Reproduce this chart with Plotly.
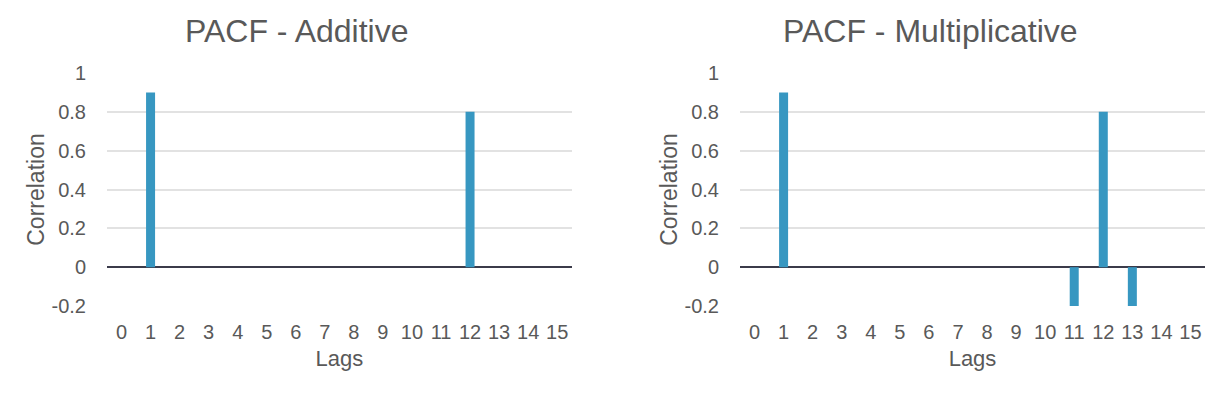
import plotly.graph_objects as go

lags = list(range(16))
additive = [0, 0.9, 0, 0, 0, 0, 0, 0, 0, 0, 0, 0, 0.8, 0, 0, 0]
multiplicative = [0, 0.9, 0, 0, 0, 0, 0, 0, 0, 0, 0, -0.2, 0.8, -0.2, 0, 0]
titles = ["PACF - Additive", "PACF - Multiplicative"]
y_ticks = [-0.2, 0, 0.2, 0.4, 0.6, 0.8, 1]
y_ticktext = ["-0.2", "0", "0.2", "0.4", "0.6", "0.8", "1"]

BAR = "#3797C1"
TXT = "#595959"
GRID = "#E2E2E2"
ZERO = "#3B3B4A"
FONT = "Liberation Sans, Arial, Helvetica, sans-serif"

W, H = 1224, 396
ML, MR, MT, MB = 107, 19, 73, 90
PW = W - ML - MR
PH = H - MT - MB

fig = go.Figure()
fig.add_trace(go.Bar(x=lags, y=additive, marker=dict(color=BAR, line=dict(width=0)),
                     width=0.31, xaxis="x", yaxis="y", showlegend=False))
fig.add_trace(go.Bar(x=lags, y=multiplicative, marker=dict(color=BAR, line=dict(width=0)),
                     width=0.31, xaxis="x2", yaxis="y2", showlegend=False))

xdom = [[0, (571.7 - ML) / PW], [(740 - ML) / PW, 1]]

common_x = dict(range=[-0.5, 15.5], tickmode="array", tickvals=lags,
                ticktext=[str(v) for v in lags], showgrid=False, zeroline=False,
                showline=False, ticks="outside", ticklen=8, tickcolor="rgba(0,0,0,0)",
                tickfont=dict(family=FONT, size=20, color=TXT), automargin=False,
                title=dict(text="Lags", font=dict(family=FONT, size=22, color=TXT), standoff=8),
                fixedrange=True)
common_y = dict(range=[-0.2, 1.0], tickmode="array", tickvals=y_ticks, ticktext=y_ticktext,
                showgrid=True, gridcolor=GRID, gridwidth=2, zeroline=True,
                zerolinecolor=ZERO, zerolinewidth=2, showline=False,
                ticks="outside", ticklen=16, tickcolor="rgba(0,0,0,0)",
                tickfont=dict(family=FONT, size=20, color=TXT), automargin=False,
                title=dict(text="Correlation", font=dict(family=FONT, size=23, color=TXT), standoff=0),
                fixedrange=True)

fig.update_layout(
    width=W, height=H,
    margin=dict(l=ML, r=MR, t=MT, b=MB),
    paper_bgcolor="white", plot_bgcolor="white",
    bargap=0.69,
    xaxis=dict(domain=xdom[0], anchor="y", **common_x),
    yaxis=dict(domain=[0, 1], anchor="x", **common_y),
    xaxis2=dict(domain=xdom[1], anchor="y2", **common_x),
    yaxis2=dict(domain=[0, 1], anchor="x2", **common_y),
)

title_px = [296.5, 930]
for t, cx in zip(titles, title_px):
    fig.add_annotation(text=t, xref="paper", yref="paper",
                       x=(cx - ML) / PW, y=(H - MB - 31) / PH,
                       xanchor="center", yanchor="middle", showarrow=False,
                       font=dict(family=FONT, size=32, color=TXT))

fig.write_html("out.html")
